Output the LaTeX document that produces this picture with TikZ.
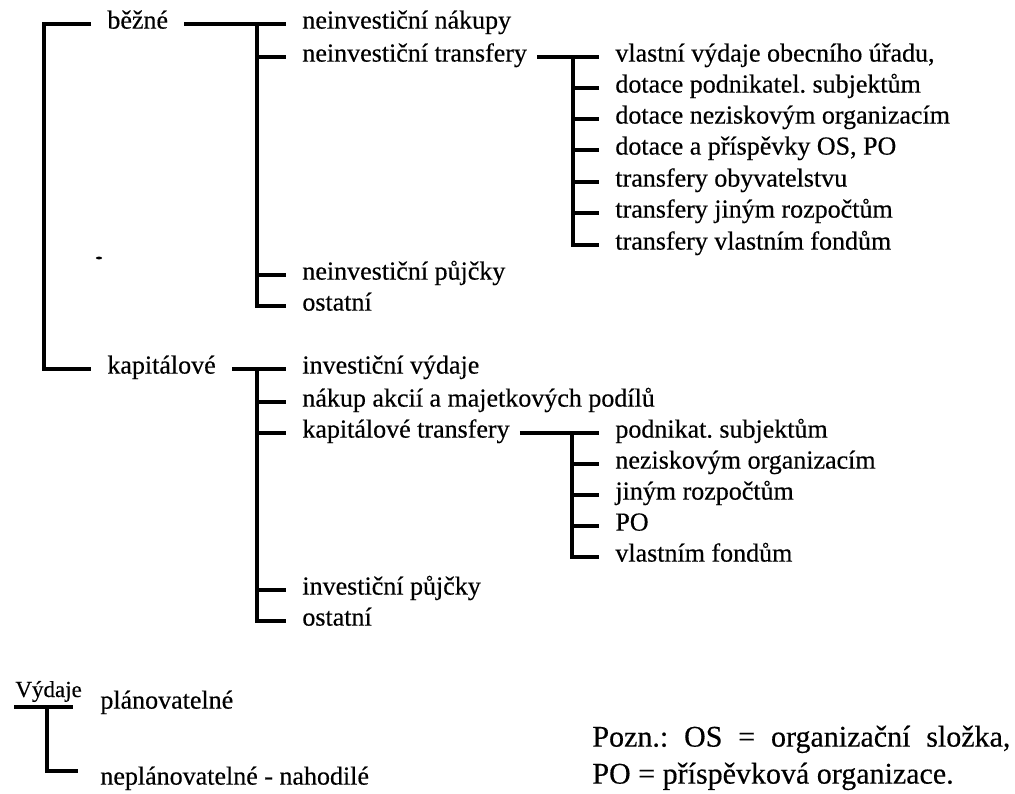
\documentclass[tikz,border=0pt]{standalone}
\usepackage{fontspec}
\setmainfont{Liberation Serif}[FakeBold=0.4]
\begin{document}
\frenchspacing
\begin{tikzpicture}[x=0.5pt,y=-0.5pt,
  lbl/.style={anchor=mid west, inner xsep=8pt, inner ysep=1pt,
              font=\fontsize{13}{15}\selectfont},
  br/.style={line width=2pt, line join=miter},
  note/.style={anchor=mid west, inner sep=0pt, font=\fontsize{15}{18}\selectfont}]
\useasboundingbox[fill=white] (0,0) rectangle (1015,793);

% top level
\node[lbl] (bezne) at (91,24)  {běžné};
\node[lbl] (kap)   at (91,369) {kapitálové};
\coordinate (L) at (44,0);
\draw[br] (bezne.mid west) -- (bezne.mid west -| L) -- (kap.mid west -| L) -- (kap.mid west);

% current expenditures
\node[lbl] (nakB) at (286,24)  {neinvestiční nákupy};
\node[lbl] (trB)  at (286,57)  {neinvestiční transfery};
\node[lbl] (pujB) at (286,275) {neinvestiční půjčky};
\node[lbl] (ostB) at (286,306) {ostatní};
\coordinate (jB) at (257,0);
\draw[br] (bezne.mid east) -- (nakB.mid west);
\foreach \n in {trB,pujB,ostB}
  \draw[br] (jB |- nakB.mid west) |- (\n.mid west);

% non-investment transfers
\node[lbl] (t1) at (599,57)  {vlastní výdaje obecního úřadu,};
\node[lbl] (t2) at (599,88)  {dotace podnikatel. subjektům};
\node[lbl] (t3) at (599,119) {dotace neziskovým organizacím};
\node[lbl] (t4) at (599,150) {dotace a příspěvky OS, PO};
\node[lbl] (t5) at (599,182) {transfery obyvatelstvu};
\node[lbl] (t6) at (599,213) {transfery jiným rozpočtům};
\node[lbl] (t7) at (599,245) {transfery vlastním fondům};
\coordinate (jT) at (573,0);
\draw[br] ([xshift=-3pt]trB.mid east) -- (t1.mid west);
\foreach \n in {t2,t3,t4,t5,t6,t7}
  \draw[br] (jT |- t1.mid west) |- (\n.mid west);

% capital expenditures
\node[lbl] (invK) at (286,369) {investiční výdaje};
\node[lbl] (akcK) at (286,402) {nákup akcií a majetkových podílů};
\node[lbl] (trK)  at (286,433) {kapitálové transfery};
\node[lbl] (pujK) at (286,590) {investiční půjčky};
\node[lbl] (ostK) at (286,621) {ostatní};
\coordinate (jK) at (257,0);
\draw[br] (kap.mid east) -- (invK.mid west);
\foreach \n in {akcK,trK,pujK,ostK}
  \draw[br] (jK |- invK.mid west) |- (\n.mid west);

% capital transfers
\node[lbl] (c1) at (599,433) {podnikat. subjektům};
\node[lbl] (c2) at (599,464) {neziskovým organizacím};
\node[lbl] (c3) at (599,495) {jiným rozpočtům};
\node[lbl] (c4) at (599,526) {PO};
\node[lbl] (c5) at (599,557) {vlastním fondům};
\coordinate (jC) at (572,0);
\draw[br] ([xshift=-3pt]trK.mid east) -- (c1.mid west);
\foreach \n in {c2,c3,c4,c5}
  \draw[br] (jC |- c1.mid west) |- (\n.mid west);

% small mark
\fill (99,258) ellipse [x radius=1.6pt, y radius=0.7pt];

% plannable / unplannable
\node[anchor=base west, inner sep=0pt, font=\fontsize{11.5}{13}\selectfont] (vyd) at (15,697) {Výdaje};
\coordinate (v0) at (14,707);
\coordinate (v1) at (73,707);
\coordinate (vj) at (47,707);
\draw[br] (v0) -- (v1);
\node[lbl] (pl)  at (84,704) {plánovatelné};
\node[lbl] (npl) at (84,780) {neplánovatelné - nahodilé};
\draw[br] (vj) |- ([shift={(-3pt,4.5pt)}]npl.mid west);

% note
\node[note] (pozn1) at (592,742) {\makebox[209pt][s]{Pozn.: OS = organizační složka,}};
\node[note] (pozn2) at (592,779) {PO = příspěvková organizace.};
\end{tikzpicture}
\end{document}
